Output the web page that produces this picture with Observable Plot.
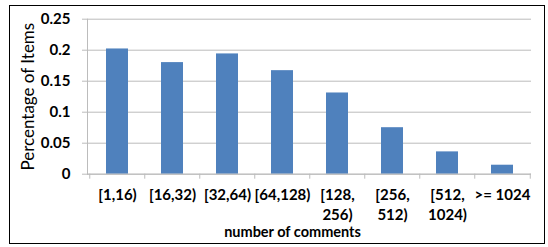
<!DOCTYPE html>
<html>
<head>
<meta charset="utf-8">
<script src="https://cdn.jsdelivr.net/npm/d3@7"></script>
<script src="https://cdn.jsdelivr.net/npm/@observablehq/plot@0.6"></script>
<style>
  html, body { margin: 0; padding: 0; background: #fff; }
  #chart svg { display: block; }
</style>
</head>
<body>
<div id="chart"></div>
<script>
const categories = ["[1,16)", "[16,32)", "[32,64)", "[64,128)", "[128, 256)", "[256, 512)", "[512, 1024)", ">= 1024"];
const values = [0.202, 0.180, 0.194, 0.167, 0.131, 0.075, 0.036, 0.0145];
const yTicks = [0, 0.05, 0.1, 0.15, 0.2, 0.25];
const yTickLabels = ["0", "0.05", "0.1", "0.15", "0.2", "0.25"];
const yTitle = "Percentage of Items";
const xTitle = "number of comments";

const data = categories.map((c, i) => ({category: c, value: values[i]}));

const W = 548, H = 247;
const mL = 87, mR = 17, mT = 18.7, mB = 73.3;
const step = (W - mL - mR) / categories.length;
const font = "Lato, 'Open Sans', sans-serif";
const grey = "#bcbcbc";

const chart = Plot.plot({
  width: W,
  height: H,
  marginLeft: mL,
  marginRight: mR,
  marginTop: mT,
  marginBottom: mB,
  style: {fontFamily: font, background: "#fff", overflow: "visible"},
  x: {domain: categories, paddingInner: 0.6, paddingOuter: 0.3},
  y: {domain: [0, 0.25]},
  marks: [
    Plot.gridY(yTicks, {stroke: grey, strokeOpacity: 1, strokeWidth: 1}),
    Plot.axisY(yTicks, {
      tickSize: 5, stroke: grey, tickPadding: 12,
      tickFormat: (d) => yTickLabels[yTicks.indexOf(d)],
      fontSize: 15, fontWeight: "bold", fill: "#000", label: null
    }),
    Plot.frame({anchor: "left", stroke: grey}),
    Plot.barY(data, {x: "category", y: "value", fill: "#4f81bd"}),
    Plot.ruleY([0], {stroke: grey}),
    Plot.axisX(categories, {tickSize: 5, stroke: grey, tickFormat: null, label: null, dx: -step / 2}),
    Plot.axisX([categories[categories.length - 1]], {tickSize: 5, stroke: grey, tickFormat: null, label: null, dx: step / 2}),
    Plot.axisX(categories, {
      tickSize: 0, tickPadding: 12,
      tickFormat: (d) => d.replace(", ", ",\n"),
      lineHeight: 1.3,
      fontSize: 15, fontWeight: "bold", fill: "#000", label: null
    }),
    Plot.text([yTitle], {frameAnchor: "left", rotate: -90, dx: -59, textAnchor: "middle", lineAnchor: "middle", fontSize: 17, fill: "#000", fontFamily: font}),
    Plot.text([xTitle], {frameAnchor: "bottom", dx: -17, dy: 58, textAnchor: "middle", lineAnchor: "middle", fontSize: 14.5, fontWeight: "bold", fill: "#000", fontFamily: font})
  ]
});

d3.select(chart).append("rect")
  .attr("x", 9.5).attr("y", 5.5)
  .attr("width", 535).attr("height", 238)
  .attr("fill", "none").attr("stroke", "#000").attr("stroke-width", 1);

document.getElementById("chart").appendChild(chart);
</script>
</body>
</html>
